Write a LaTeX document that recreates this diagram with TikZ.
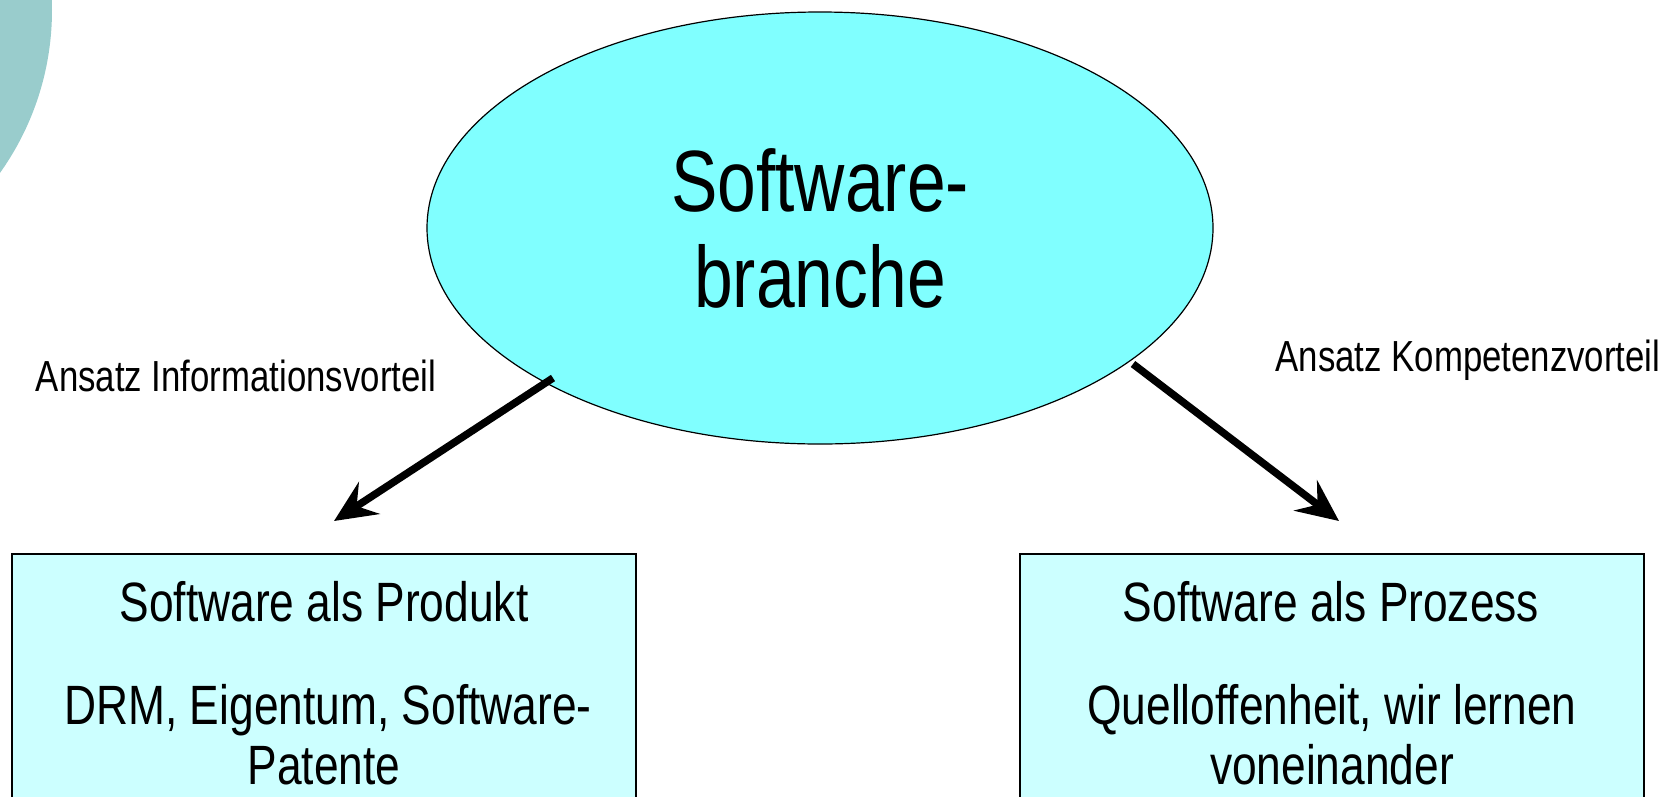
\documentclass[tikz,border=0pt]{standalone}
\usepackage{fontspec}
\setmainfont{Liberation Sans}[FakeStretch=0.8]
\usetikzlibrary{shapes.geometric,arrows.meta}
\definecolor{hubcyan}{RGB}{128,255,255}
\definecolor{boxcyan}{RGB}{204,255,255}
\definecolor{cornerteal}{RGB}{153,204,204}
\tikzset{
  hub/.style={ellipse, draw=black, line width=1.2pt, fill=hubcyan,
    minimum width=786pt, minimum height=432pt, inner sep=0pt,
    align=center, font=\fontsize{87}{96}\selectfont},
  panel/.style={rectangle, draw=black, line width=1.5pt, fill=boxcyan,
    minimum width=624pt, minimum height=300pt, inner sep=0pt, anchor=north},
  boxtext/.style={anchor=base, inner sep=0pt, font=\fontsize{55.4}{60}\selectfont},
  edgelabel/.style={anchor=base, inner sep=0pt, font=\fontsize{43.5}{48}\selectfont},
  conn/.style={line width=7.5pt, -{Stealth[length=42pt,width=38pt,inset=15pt]}}
}
\begin{document}
\begin{tikzpicture}[x=1pt,y=-1pt]
  \useasboundingbox (0,0) rectangle (1678,796);
  \clip (0,0) rectangle (1678,796);

  % decorative disc in the upper left corner
  \fill[cornerteal] (-229,10) circle (281pt);

  % central topic
  \node[hub] (hub) at (820,228) {Software-\\branche};

  % the two views
  \node[panel] (prod) at (324,553) {};
  \node[panel] (proc) at (1332,553) {};

  \node[boxtext] (prodA) at (324,621) {Software als Produkt};
  \node[boxtext] (prodB) at (328,724) {DRM, Eigentum, Software-};
  \node[boxtext] (prodC) at (324,784) {Patente};

  \node[boxtext] (procA) at (1331,621) {Software als Prozess};
  \node[boxtext] (procB) at (1332,724) {Quelloffenheit, wir lernen};
  \node[boxtext] (procC) at (1332,784) {voneinander};

  % edge labels
  \node[edgelabel] (infoLbl) at (236,391) {Ansatz Informationsvorteil};
  \node[edgelabel] (kompLbl) at (1468,371) {Ansatz Kompetenzvorteil};

  % connectors
  \coordinate (infoStart) at (553,378);
  \coordinate (infoEnd) at (334,521);
  \coordinate (kompStart) at (1133,364);
  \coordinate (kompEnd) at (1339,521);
  \draw[conn] (infoStart) -- (infoEnd);
  \draw[conn] (kompStart) -- (kompEnd);
\end{tikzpicture}
\end{document}
